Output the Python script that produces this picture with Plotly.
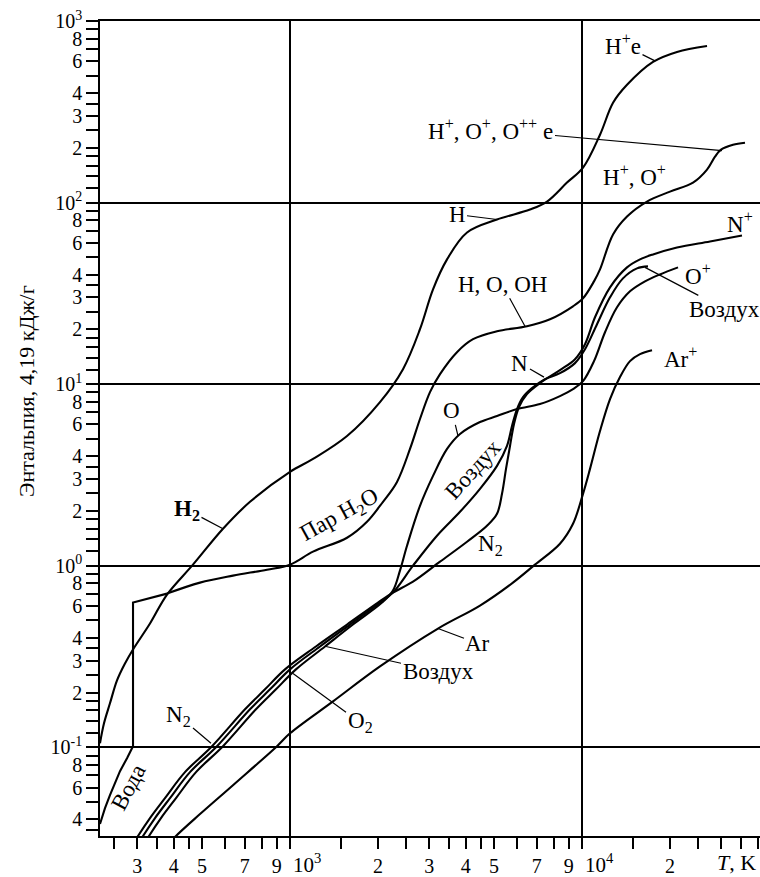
import math
import plotly.graph_objects as go

# ---------------- data ----------------
# Hydrogen: H2 -> H -> H+ e
T_HYD = [223.5, 230.7, 241.8, 255.6, 272.2, 290, 331.5, 379.1, 465.3, 589.5, 729.5, 1000, 1199, 1568,
         2033, 2438, 2787, 3089, 3450, 4039, 5116, 6635, 7590, 8884, 10080, 11525, 12773, 14262,
         17508, 21152, 26800]
H_HYD = [0.1052, 0.1355, 0.1745, 0.2334, 0.2893, 0.3456, 0.480, 0.6928, 1.013, 1.597, 2.247, 3.285,
         3.872, 5.179, 7.963, 12.09, 20.06, 33.27, 48.63, 68.43, 80.65, 91.5, 101.3, 128.8, 155.7,
         236.4, 354.4, 445.1, 595.2, 675.6, 728.9]

# Water (liquid part with evaporation jump)
T_WATER_LIQ = [223.5, 232.5, 241.8, 253.6, 261.7, 276.6, 290, 290, 379.1]
H_WATER_LIQ = [0.03775, 0.04622, 0.05449, 0.06503, 0.07382, 0.08701, 0.1013, 0.6261, 0.7016]

# Water vapour -> H, O, OH -> H+, O+ -> H+, O+, O++ e
T_WATER = [379.1, 491.8, 637.8, 834.2, 1000, 1199, 1568, 1835, 2082, 2325, 2576, 2787, 3016, 3264,
           3731, 4234, 5116, 6479, 7770, 9316, 10080, 10993, 11525, 12773, 14262, 16695, 20014,
           24002, 26800, 28546, 29925, 32897, 36160]
H_WATER = [0.7016, 0.8064, 0.8813, 0.9506, 1.013, 1.194, 1.425, 1.745, 2.247, 2.894, 4.394, 6.423,
           9.036, 11.35, 14.99, 17.68, 19.55, 20.83, 22.76, 26.83, 29.69, 36.81, 42.84, 66.72, 83.77,
           101.3, 114.9, 128.8, 151.9, 178.9, 195.6, 208.3, 213.6]

# Nitrogen: N2 -> N -> N+
T_NIT = [287.7, 301.6, 331.5, 373.1, 436.9, 540.7, 701.3, 821.2, 961.4, 1227, 1568, 2001, 2252, 2638,
         3264, 4039, 4727, 5116, 5321, 5492, 5668, 5850, 6085, 6479, 7179, 8405, 9462, 10240, 11080,
         12474, 14262, 15800, 17508, 21152, 27437, 35310]
H_NIT = [0.02858, 0.03243, 0.04073, 0.05246, 0.07289, 0.1013, 0.1618, 0.2084, 0.2684, 0.3588, 0.4740,
         0.6261, 0.7106, 0.8167, 1.052, 1.355, 1.659, 1.931, 2.487, 3.412, 4.563, 6.027, 7.476, 8.812,
         10.13, 11.94, 13.72, 16.59, 23.34, 34.12, 43.95, 48.63, 51.79, 56.57, 61.07, 65.88]

# Air
T_AIR = [299.2, 313.8, 344.9, 388.2, 454.4, 562.3, 729.5, 854.2, 1000, 1267, 1605, 2033, 2252, 2638,
         3187, 3821, 4474, 5116, 5535, 5758, 5990, 6280, 6742, 7469, 8405, 9462, 10240, 11257, 12474,
         13813, 15430, 16828]
H_AIR = [0.02858, 0.03243, 0.04073, 0.05246, 0.07289, 0.1013, 0.1618, 0.2084, 0.2684, 0.3588, 0.4740,
         0.6261, 0.7106, 1.000, 1.462, 1.980, 2.649, 3.544, 4.563, 5.876, 7.289, 8.483, 9.506, 10.65,
         11.49, 13.05, 15.57, 21.37, 30.06, 38.22, 43.39, 44.50]

# Oxygen: O2 -> O -> O+
T_OXY = [313.8, 328.9, 361.5, 407.0, 476.5, 589.5, 764.6, 895.4, 1048, 1318, 1643, 2066, 2252, 2380,
         2516, 2787, 3089, 3450, 3821, 4474, 5116, 5990, 7179, 8405, 9316, 10080, 10993, 11991, 13181,
         14602, 16434, 18497, 21324]
H_OXY = [0.02858, 0.03243, 0.04073, 0.05246, 0.07289, 0.1013, 0.1618, 0.2084, 0.2684, 0.3588, 0.4740,
         0.6261, 0.7290, 0.9386, 1.288, 2.136, 3.122, 4.394, 5.312, 6.182, 6.672, 7.289, 7.766, 8.592,
         9.386, 10.39, 13.38, 19.31, 26.49, 32.43, 36.81, 40.20, 43.95]

# Argon: Ar -> Ar+
T_AR = [388.2, 407.0, 491.8, 637.8, 902.6, 1000, 1404, 2033, 3212, 4474, 5802, 6902, 8405, 9316,
        10080, 10652, 11525, 12474, 13494, 14602, 15800, 17370]
H_AR = [0.02969, 0.03243, 0.04283, 0.06180, 0.1013, 0.1193, 0.1789, 0.2787, 0.4505, 0.6030, 0.8064,
        1.013, 1.321, 1.701, 2.487, 3.412, 5.518, 8.273, 10.93, 13.38, 14.62, 15.38]

# Axis ticks
X_TICKS = [300, 400, 500, 700, 900, 1000, 2000, 3000, 4000, 5000, 7000, 9000, 10000, 20000]
X_TICKTEXT = ["3", "4", "5", "7", "9", "", "2", "3", "4", "5", "7", "9", "", "2"]
X_DECADES = [1000, 10000]
X_DECADE_TEXT = ["10<sup>3</sup>", "10<sup>4</sup>"]
X_MINOR = [250, 350, 450, 600, 800, 1500, 2500, 3500, 4500, 6000, 8000, 15000, 25000, 30000, 35000, 40000]
Y_TICKS = [0.04, 0.06, 0.08, 0.1, 0.2, 0.3, 0.4, 0.6, 0.8, 1, 2, 3, 4, 6, 8, 10, 20, 30, 40, 60, 80, 100,
           200, 300, 400, 600, 800, 1000]
Y_TICKTEXT = ["4", "6", "8", "10<sup>-1</sup>", "2", "3", "4", "6", "8", "10<sup>0</sup>", "2", "3", "4", "6", "8",
              "10<sup>1</sup>", "2", "3", "4", "6", "8", "10<sup>2</sup>", "2", "3", "4", "6", "8", "10<sup>3</sup>"]
Y_MINOR = [0.035, 0.05, 0.07, 0.09,
           0.12, 0.14, 0.16, 0.18, 0.25, 0.35, 0.5, 0.7, 0.9,
           1.2, 1.4, 1.6, 1.8, 2.5, 3.5, 5, 7, 9,
           12, 14, 16, 18, 25, 35, 50, 70, 90,
           120, 140, 160, 180, 250, 350, 500, 700, 900]
X_GRID = [1000, 10000]
Y_GRID = [0.1, 1, 10, 100, 1000]

FONT = "Liberation Serif, Times New Roman, serif"

fig = go.Figure()

smooth = dict(color="black", width=2.1, shape="spline", smoothing=1.0)
for tx, hy in [(T_HYD, H_HYD), (T_WATER, H_WATER), (T_NIT, H_NIT), (T_AIR, H_AIR),
               (T_OXY, H_OXY), (T_AR, H_AR)]:
    fig.add_trace(go.Scatter(x=tx, y=hy, mode="lines", line=smooth, hoverinfo="skip", showlegend=False))
fig.add_trace(go.Scatter(x=T_WATER_LIQ, y=H_WATER_LIQ, mode="lines",
                         line=dict(color="black", width=2.1), hoverinfo="skip", showlegend=False))

# all ticks: labelled + unlabelled
xt = X_TICKS + X_MINOR
xtt = X_TICKTEXT + [""] * len(X_MINOR)
yt = Y_TICKS + Y_MINOR
ytt = Y_TICKTEXT + [""] * len(Y_MINOR)

fig.update_layout(
    width=760, height=877,
    margin=dict(l=100, r=0, t=21, b=39),
    paper_bgcolor="white", plot_bgcolor="white",
    showlegend=False,
    font=dict(family=FONT, size=19, color="black"),
    xaxis=dict(type="log", range=[2.3493, 4.6096], tickmode="array", tickvals=xt, ticktext=xtt,
               tickangle=0,
               ticks="outside", ticklen=11, tickwidth=1.5, tickcolor="black",
               showline=True, linecolor="black", linewidth=1.5, mirror=True,
               showgrid=False, zeroline=False, tickfont=dict(family=FONT, size=20),
               minor=dict(tickmode="array", tickvals=X_GRID, showgrid=True, gridcolor="black",
                          gridwidth=1.5, ticks="")),
    yaxis=dict(type="log", range=[-1.489, 3.0], tickmode="array", tickvals=yt, ticktext=ytt,
               tickangle=0,
               ticks="outside", ticklen=12, tickwidth=1.5, tickcolor="black",
               showline=True, linecolor="black", linewidth=1.5, mirror=False,
               showgrid=False, zeroline=False, tickfont=dict(family=FONT, size=20),
               minor=dict(tickmode="array", tickvals=Y_GRID, showgrid=True, gridcolor="black",
                          gridwidth=1.5, ticks="")),
)

# decade labels on the T axis (annotation x on a log axis is in log10 units),
# set just right of their grid lines so they do not collide with the "9" labels
for dv, dt in zip(X_DECADES, X_DECADE_TEXT):
    fig.add_annotation(x=math.log10(dv), xref="x", y=-0.0335, yref="paper", yanchor="middle",
                       xanchor="left", xshift=1, text=dt, showarrow=False,
                       font=dict(family=FONT, size=21, color="black"))

LBL = dict(family=FONT, size=23, color="black")

# labels with leader lines: (text, x_log, y_log, ax, ay)
leaders = [
    ("<b>H<sub>2</sub></b>", 2.7705, 0.2033, -36, -19),
    ("H", 3.7089, 1.9066, -40, -5),
    ("H<sup>+</sup>e", 4.2500, 2.7802, -32, -16),
    ("H<sup>+</sup>, O<sup>+</sup>, O<sup>++</sup> e", 4.4794, 2.2857, -231, -21),
    ("H, O, OH", 3.8048, 1.3187, -23, -42),
    ("N<sub>2</sub>", 2.7294, -0.9780, -32, -27),
    ("O<sub>2</sub>", 3.0103, -0.5934, 67, 49),
    ("Воздух", 3.1233, -0.4451, 112, 25),
    ("Ar", 3.5068, -0.3462, 40, 15),
    ("O", 3.5753, 0.7143, -6, -25),
    ("N", 3.8698, 1.0385, -24, -14),
    ("Воздух", 4.2157, 1.6429, 80, 42),
]
for txt, xl, yl, ax, ay in leaders:
    fig.add_annotation(x=xl, y=yl, xref="x", yref="y", text=txt, showarrow=True, arrowhead=0,
                       arrowwidth=1.2, arrowcolor="black", ax=ax, ay=ay, font=LBL, standoff=0)

# plain labels: (text, x_log, y_log, angle)
plain = [
    ("H<sup>+</sup>, O<sup>+</sup>", 4.1781, 2.1484, 0),
    ("Пар H<sub>2</sub>O", 3.1678, 0.2747, -29),
    ("Вода", 2.4452, -1.2198, -62),
    ("Воздух", 3.6267, 0.5275, -48),
    ("N<sub>2</sub>", 3.6883, 0.1154, 0),
    ("N<sup>+</sup>", 4.5411, 1.8901, 0),
    ("O<sup>+</sup>", 4.3972, 1.6044, 0),
    ("Ar<sup>+</sup>", 4.3390, 1.1484, 0),
]
for txt, xl, yl, ang in plain:
    fig.add_annotation(x=xl, y=yl, xref="x", yref="y", text=txt, showarrow=False,
                       textangle=ang, font=LBL)

fig.add_annotation(x=0.965, y=-0.033, xref="paper", yref="paper", xanchor="center", yanchor="middle",
                   text="<i>T</i>, K", showarrow=False, font=dict(family=FONT, size=22, color="black"))
fig.add_annotation(x=-0.112, y=0.546, xref="paper", yref="paper", xanchor="center", yanchor="middle",
                   text="Энтальпия, 4,19 кДж/г", textangle=-90, showarrow=False,
                   font=dict(family=FONT, size=22, color="black"))

fig.write_html("out.html")
